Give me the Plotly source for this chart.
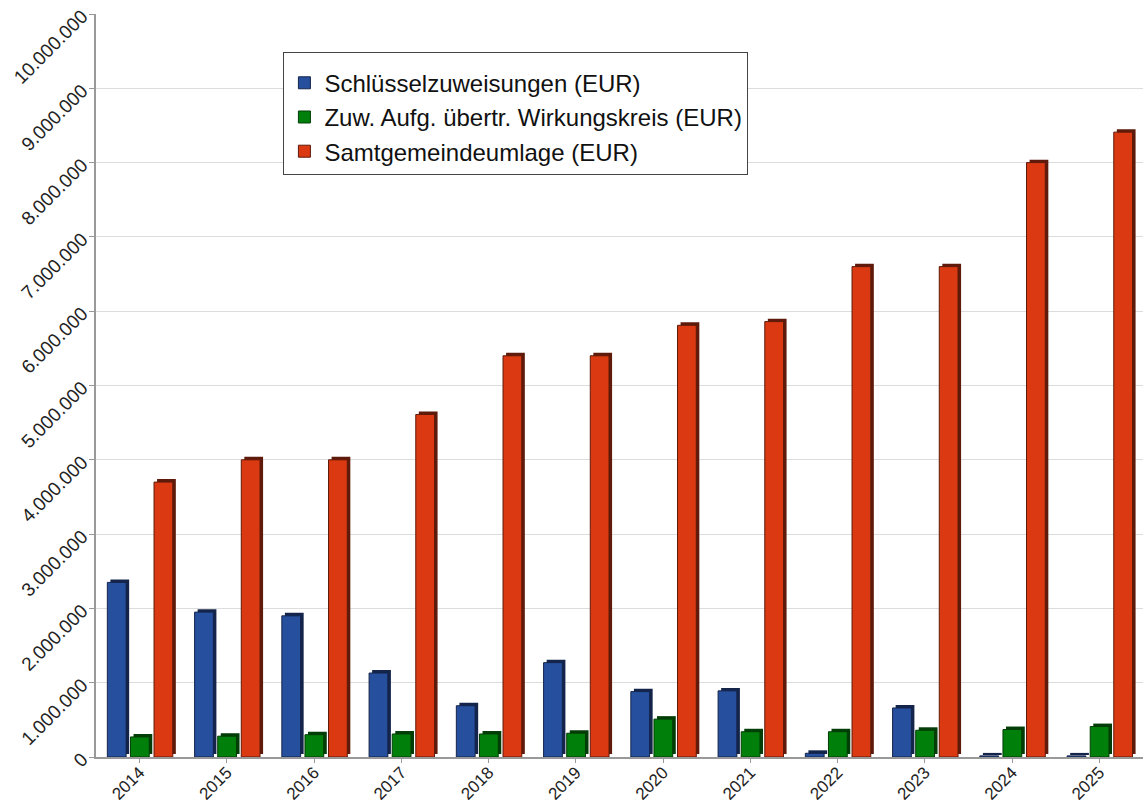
import plotly.graph_objects as go

years = ["2014", "2015", "2016", "2017", "2018", "2019", "2020", "2021", "2022", "2023", "2024", "2025"]
schluessel = [2350000, 1950000, 1900000, 1130000, 690000, 1270000, 880000, 890000, 50000, 660000, 15000, 15000]
zuweisung = [270000, 280000, 300000, 310000, 310000, 320000, 510000, 340000, 340000, 360000, 370000, 410000]
umlage = [3700000, 4000000, 4000000, 4610000, 5400000, 5400000, 5810000, 5860000, 6600000, 6600000, 8000000, 8410000]

names = ["Schlüsselzuweisungen (EUR)", "Zuw. Aufg. übertr. Wirkungskreis (EUR)", "Samtgemeindeumlage (EUR)"]
series = [schluessel, zuweisung, umlage]
colors = ["#264f9e", "#00800b", "#db3912"]
dark = ["#14244a", "#033d07", "#5e1a0a"]
offsets = [-0.37, -0.105, 0.165]
width = 0.215
depth_x = 0.035
depth_y = 40000

fig = go.Figure()
for vals, c, d, off in zip(series, colors, dark, offsets):
    fig.add_trace(go.Bar(
        x=years, y=vals, base=depth_y, offset=off + depth_x, width=width,
        marker=dict(color=d, line=dict(width=0)), showlegend=False, hoverinfo="skip"))
for name, vals, c, d, off in zip(names, series, colors, dark, offsets):
    fig.add_trace(go.Bar(
        x=years, y=vals, name=name, offset=off, width=width,
        marker=dict(color=c, line=dict(color=d, width=1))))

fig.update_layout(
    width=1143, height=803,
    margin=dict(l=96, r=0, t=14, b=46),
    plot_bgcolor="white", paper_bgcolor="white",
    barmode="overlay",
    separators=",.",
    font=dict(family="Liberation Sans, Arial, sans-serif", color="#222222"),
    legend=dict(
        x=0.179, y=0.949, xanchor="left", yanchor="top",
        bgcolor="white", bordercolor="#444444", borderwidth=1,
        font=dict(size=24, color="#111111"),
        title=dict(text=" ", font=dict(size=6)),
        tracegroupgap=0, itemwidth=30,
        entrywidth=440, entrywidthmode="pixels",
    ),
    showlegend=True,
)
fig.update_yaxes(
    range=[0, 10000000], dtick=1000000, tickformat=",d",
    tickangle=-45, tickfont=dict(size=19, color="#222222"),
    showgrid=True, gridcolor="#dcdcdc", gridwidth=1,
    showline=True, linecolor="#999999", linewidth=2,
    ticks="outside", ticklen=5, tickcolor="#999999",
    ticklabelstandoff=3,
    zeroline=False, automargin=False,
)
fig.update_xaxes(
    type="category", tickangle=-45, tickfont=dict(size=17, color="#222222"),
    showline=True, linecolor="#999999", linewidth=2,
    ticks="outside", ticklen=4, tickcolor="#999999",
    ticklabelstandoff=-7,
    showgrid=False, automargin=False,
)

fig.write_html("out.html", config={"displayModeBar": False},
               post_script="document.body.style.margin='0';document.body.style.overflow='hidden';")
